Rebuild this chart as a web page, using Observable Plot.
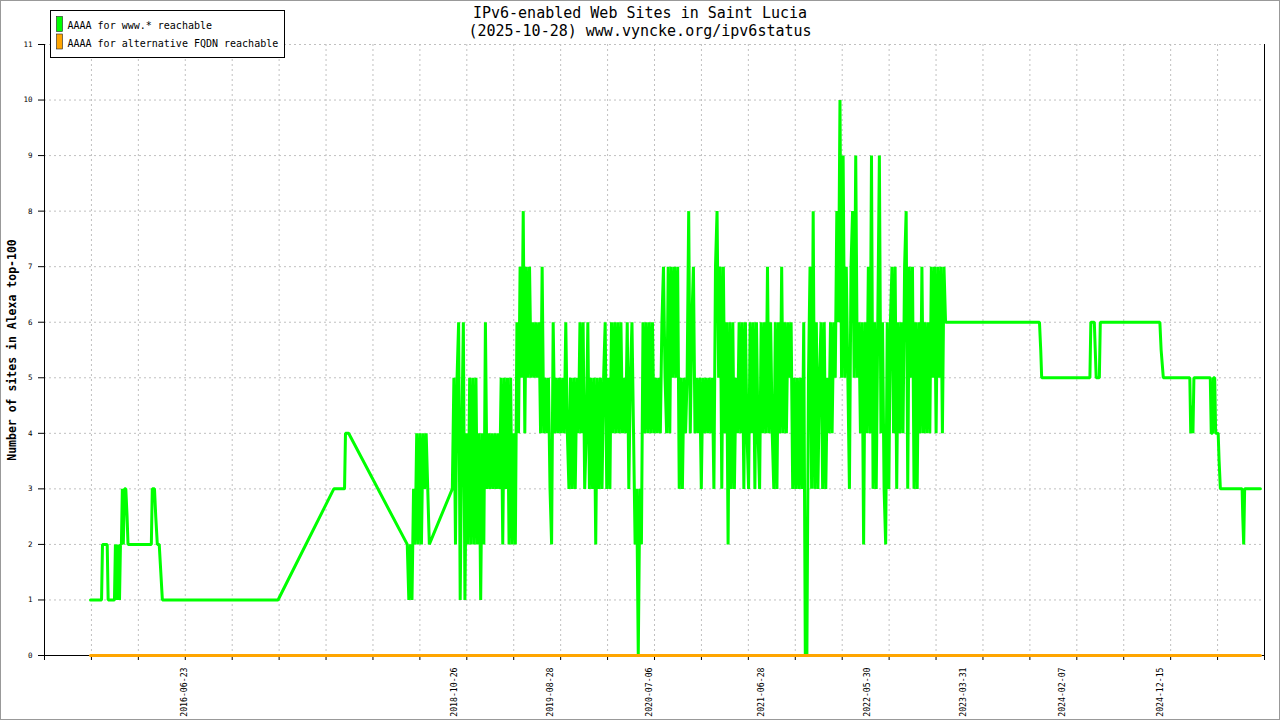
<!DOCTYPE html>
<html><head><meta charset="utf-8">
<script src="https://cdn.jsdelivr.net/npm/d3@7"></script>
<script src="https://cdn.jsdelivr.net/npm/@observablehq/plot@0.6"></script>
<style>
html,body{margin:0;padding:0;background:#fff;}
#wrap{position:relative;width:1280px;height:720px;overflow:hidden;background:#fff;}
#wrap svg{position:absolute;left:0;top:0;}
</style></head><body><div id="wrap"></div>
<script>
// ---------- texts ----------
const titleLines = ["IPv6-enabled Web Sites in Saint Lucia", "(2025-10-28) www.vyncke.org/ipv6status"];
const yAxisTitle = "Number of sites in Alexa top-100";
const seriesNames = ["AAAA for www.* reachable", "AAAA for alternative FQDN reachable"];
const seriesColors = ["#00ff00", "#ffa500"];

// ---------- axes ----------
const yTickValues = [0, 1, 2, 3, 4, 5, 6, 7, 8, 9, 10, 11];
const xTickLabels = ["2016-06-23", "2018-10-26", "2019-08-28", "2020-07-06", "2021-06-28",
                     "2022-05-30", "2023-03-31", "2024-02-07", "2024-12-15"];
const xDomain = ["2015-04-06", "2025-11-10"];
const xTickCount = 26;

// ---------- series: AAAA for www.* reachable ----------
const earlyDates = ["2015-08-30","2015-10-04","2015-10-07","2015-10-22","2015-10-25","2015-11-14",
  "2015-11-17","2015-11-22","2015-11-25","2015-11-30","2015-12-03","2015-12-06","2015-12-09",
  "2015-12-12","2015-12-16","2015-12-20","2015-12-24","2015-12-27","2016-03-10","2016-03-13",
  "2016-03-20","2016-03-24","2016-03-29","2016-04-04","2016-04-09","2016-04-14","2017-04-16",
  "2017-10-10","2017-11-13","2017-11-16","2017-11-26"];
const earlyValues = [1,1,2,2,1,1,
  2,1,2,1,2,2,3,
  2,3,3,2.5,2,2,3,
  3,2.5,2,2,1.5,1,1,
  3,3,4,4];

const denseStepDays = 5;
const dense2018Start = "2018-05-31";
const dense2018Values = [2,1,2,1,3,2,4,2,4,2,4,3,4,3,2];

const denseMainStart = "2018-10-21";
const denseMainValues = [
  3,5,2,5,6,1,4,6,1,4,
  2,5,2,5,2,5,2,4,1,4,
  2,6,3,4,3,4,3,4,3,4,
  3,5,2,5,3,5,2,5,2,4,
  2,6,4,7,5,8,4,7,5,7,
  5,6,5,6,5,6,4,7,4,5,
  4,5,3,2,6,4,5,4,5,4,
  5,4,6,4,3,5,3,5,3,5,
  4,6,4,6,3,4,6,3,5,3,
  5,2,5,3,5,3,5,6,3,5,
  3,6,4,6,4,6,4,6,4,5,
  4,6,3,5,6,4,2,3,0,3,
  2,6,4,6,4,6,4,6,4,5,
  4,5,4,6,7,5,4,7,4,7,
  5,7,5,7,3,5,3,5,4,5,
  8,4,6,7,4,5,4,5,3,5,
  4,5,4,5,4,5,3,7,8,5,
  7,3,7,4,6,2,6,3,6,3,
  5,4,6,4,6,3,6,4,3,6,
  4,6,3,6,4,3,6,4,6,4,
  7,4,6,4,3,6,3,6,4,7,
  4,6,4,6,5,6,3,5,3,5,
  3,5,3,6,0,0,5,7,3,8,
  3,6,3,5,6,3,6,3,5,4,
  6,4,6,5,8,6,10,5,9,5,
  7,5,3,7,8,5,9,5,6,4,
  6,2,6,4,7,4,9,3,6,3,
  6,9,4,6,3,2,6,3,6,7,
  4,7,3,6,4,6,4,7,8,3,
  7,5,7,3,6,3,6,4,7,4,
  6,4,6,4,7,5,7,4,7,5,
  7,4,7
];

const lateDates = ["2023-02-02","2023-11-27","2023-12-01","2023-12-04","2024-05-05","2024-05-08",
  "2024-05-19","2024-05-22","2024-05-25","2024-06-04","2024-06-07","2024-12-13","2024-12-17",
  "2024-12-24","2025-03-18","2025-03-21","2025-03-25","2025-03-28","2025-03-31","2025-05-22",
  "2025-05-25","2025-05-29","2025-06-01","2025-06-05","2025-06-08","2025-06-16","2025-06-19",
  "2025-06-23","2025-08-31","2025-09-02","2025-09-05","2025-09-08","2025-10-28"];
const lateValues = [6,6,5.5,5,5,6,
  6,5.5,5,5,6,6,5.5,
  5,5,4,4.5,4,5,5,
  4,4,5,5,4,4,3.5,
  3,3,2.5,2,3,3];

// ---------- series: AAAA for alternative FQDN reachable ----------
const fqdnDates = ["2015-08-30", "2025-10-28"];
const fqdnValues = [0, 0];

// ---------- build ----------
const parse = d3.utcParse("%Y-%m-%d");
const dayMs = 864e5;
function expand(start, step, values) {
  const t0 = +parse(start);
  return values.map((v, i) => ({date: new Date(t0 + i * step * dayMs), value: v}));
}
const wwwPoints = [
  ...earlyDates.map((d, i) => ({date: parse(d), value: earlyValues[i]})),
  ...expand(dense2018Start, denseStepDays, dense2018Values),
  ...expand(denseMainStart, denseStepDays, denseMainValues),
  ...lateDates.map((d, i) => ({date: parse(d), value: lateValues[i]}))
];
const fqdnPoints = fqdnDates.map((d, i) => ({date: parse(d), value: fqdnValues[i]}));

const x0 = parse(xDomain[0]), x1 = parse(xDomain[1]);
const xTicks = d3.range(xTickCount + 1).map(i => new Date(+x0 + (x1 - x0) * i / xTickCount));
const labelDates = xTickLabels.map(parse);
const font = "DejaVu Sans Mono";
const gridStyle = {stroke: "#c0c0c0", strokeOpacity: 1, strokeDasharray: "2,3"};

const chart = Plot.plot({
  width: 1280, height: 720,
  marginLeft: 44, marginRight: 16, marginTop: 44, marginBottom: 65,
  style: {fontFamily: font, background: "transparent", color: "black"},
  x: {type: "utc", domain: [x0, x1]},
  y: {domain: [0, 11]},
  marks: [
    Plot.gridY(yTickValues.filter(v => v > 0), gridStyle),
    Plot.gridX(xTicks.slice(1, -1), gridStyle),
    Plot.ruleX([x0], {stroke: "black"}),
    Plot.ruleX([x1], {stroke: "black", insetBottom: -5}),
    Plot.ruleY([0], {stroke: "black"}),
    Plot.axisY(yTickValues, {tickSize: 6, tickPadding: 6, fontSize: 7.5, label: null,
      tickFormat: d => String(d)}),
    Plot.axisX(xTicks, {tickSize: 5, tickFormat: () => "", label: null}),
    Plot.axisX(labelDates, {tickSize: 0, tickPadding: 12, tickRotate: -90, textAnchor: "end",
      fontSize: 8.2, tickFormat: d3.utcFormat("%Y-%m-%d"), label: null}),
    Plot.line(wwwPoints, {x: "date", y: "value", stroke: seriesColors[0], strokeWidth: 3,
      strokeLinejoin: "bevel"}),
    Plot.line(fqdnPoints, {x: "date", y: "value", stroke: seriesColors[1], strokeWidth: 3})
  ]
});
const wrap = document.getElementById("wrap");
wrap.appendChild(chart);

// ---------- overlay: titles, legend, y title, border ----------
const ov = d3.select(wrap).append("svg")
  .attr("width", 1280).attr("height", 720)
  .style("pointer-events", "none")
  .attr("font-family", font);
ov.selectAll("text.title").data(titleLines).join("text")
  .attr("x", 640).attr("y", (d, i) => 18 + i * 18)
  .attr("text-anchor", "middle").attr("font-size", 15).attr("fill", "black")
  .text(d => d);
ov.append("text")
  .attr("transform", "translate(16,350) rotate(-90)")
  .attr("text-anchor", "middle").attr("font-size", 11.5).attr("font-weight", "bold")
  .text(yAxisTitle);
const lg = ov.append("g");
lg.append("rect").attr("x", 50.5).attr("y", 10.5).attr("width", 234).attr("height", 47)
  .attr("fill", "white").attr("stroke", "black");
seriesNames.forEach((name, i) => {
  lg.append("rect").attr("x", 56.5).attr("y", 16.5 + i * 17.5).attr("width", 6).attr("height", 15)
    .attr("fill", seriesColors[i]).attr("stroke", "#222").attr("stroke-width", 0.6);
  lg.append("text").attr("x", 67.5).attr("y", 29 + i * 17.5).attr("font-size", 10).text(name);
});
ov.append("rect").attr("x", 0.5).attr("y", 0.5).attr("width", 1279).attr("height", 719)
  .attr("fill", "none").attr("stroke", "#999");
</script></body></html>
